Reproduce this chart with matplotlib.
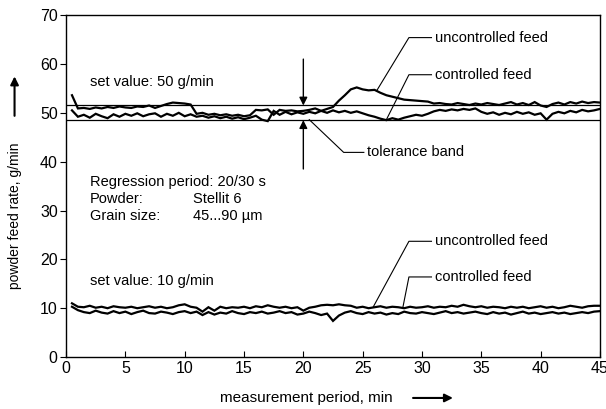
import matplotlib
matplotlib.use("Agg")
import matplotlib.pyplot as plt
import numpy as np

plt.rcParams['font.family'] = ['Liberation Sans', 'DejaVu Sans']

# measurement period, min (sampled every 0.5 min)
t = np.arange(0.5, 45.01, 0.5)

unc50 = [53.6, 50.9, 51.0, 50.8, 51.1, 50.9, 51.2, 51.0, 51.3, 51.1,
         51.0, 51.3, 51.2, 51.5, 51.0, 51.4, 51.8, 52.1, 52.0, 51.9,
         51.7, 49.8, 50.0, 49.6, 49.8, 49.5, 49.7, 49.4, 49.6, 49.3,
         49.5, 50.6, 50.5, 50.7, 49.6, 50.6, 50.4, 50.5, 50.3, 50.4,
         50.6, 50.9, 50.4, 50.8, 51.2, 52.5, 53.6, 54.8, 55.2, 54.8,
         54.6, 54.7, 54.1, 53.6, 53.3, 53.0, 52.7, 52.6, 52.5, 52.4,
         52.3, 51.9, 52.0, 51.8, 51.7, 52.0, 51.8, 51.6, 51.9, 51.7,
         52.0, 51.8, 51.6, 51.9, 52.2, 51.7, 52.0, 51.6, 52.2, 51.5,
         51.2, 51.8, 52.1, 51.7, 52.2, 51.9, 52.3, 52.0, 52.2, 52.1]
ctl50 = [50.5, 49.2, 49.6, 49.0, 49.8, 49.3, 48.9, 49.7, 49.2, 49.8,
         49.4, 49.9, 49.3, 49.7, 49.9, 49.2, 49.8, 49.4, 50.0, 49.3,
         49.7, 49.2, 49.4, 49.0, 49.3, 48.9, 49.2, 48.8, 49.1, 48.7,
         49.0, 49.4, 48.6, 48.3, 50.4, 49.6, 50.2, 49.7, 50.1, 49.8,
         50.2, 49.9, 50.4, 50.0, 50.5, 50.1, 50.4, 50.0, 50.3, 49.9,
         49.5, 49.2, 48.8, 48.5, 48.9, 48.6, 49.0, 49.3, 49.6, 49.4,
         49.8, 50.3, 50.6, 50.4, 50.7, 50.5, 50.8, 50.6, 50.9, 50.2,
         49.8, 50.1, 49.6, 50.0, 49.7, 50.2, 49.8, 50.1, 49.6, 49.9,
         48.6, 49.8, 50.2, 49.9, 50.4, 50.1, 50.6, 50.3, 50.5, 50.8]
unc10 = [11.0, 10.3, 10.2, 10.5, 10.1, 10.3, 10.0, 10.4, 10.2, 10.1,
         10.3, 10.0, 10.2, 10.4, 10.1, 10.3, 10.0, 10.2, 10.6, 10.8,
         10.3, 10.1, 9.3, 10.2, 9.5, 10.3, 10.0, 10.2, 10.1, 10.3,
         10.0, 10.4, 10.2, 10.6, 10.3, 10.1, 10.3, 10.0, 10.2, 9.5,
         10.1, 10.3, 10.6, 10.7, 10.6, 10.8, 10.6, 10.5, 10.1, 10.3,
         10.0, 10.2, 10.4, 10.1, 10.3, 10.2, 10.0, 10.3, 10.1, 10.2,
         10.4, 10.1, 10.3, 10.2, 10.5, 10.3, 10.7, 10.4, 10.2, 10.4,
         10.1, 10.3, 10.2, 10.0, 10.3, 10.1, 10.3, 10.0, 10.2, 10.4,
         10.1, 10.3, 10.0, 10.2, 10.5, 10.3, 10.1, 10.4, 10.5, 10.5]
ctl10 = [10.3, 9.6, 9.2, 9.0, 9.5, 9.1, 8.9, 9.4, 9.0, 9.3,
         8.8, 9.2, 9.5, 9.0, 8.9, 9.3, 9.1, 8.8, 9.2, 9.4,
         9.0, 9.3, 8.6, 9.2, 8.7, 9.1, 8.9, 9.4, 9.0, 8.8,
         9.2, 9.0, 9.3, 8.9, 9.1, 9.4, 9.0, 9.2, 8.7, 8.9,
         9.3, 9.0, 8.6, 8.9, 7.4, 8.5, 9.1, 9.4, 9.0, 8.8,
         9.2, 8.9, 9.1, 8.7, 9.0, 8.8, 9.3, 9.0, 8.9, 9.2,
         9.0, 8.8, 9.1, 9.4, 9.0, 9.2, 8.9, 9.1, 9.3, 9.0,
         8.8, 9.2, 8.9, 9.1, 8.7, 9.0, 9.3, 8.9, 9.1, 8.8,
         9.0, 9.2, 8.9, 9.1, 8.8, 9.0, 9.2, 9.0, 9.3, 9.4]

band = [48.5, 51.5]

fig = plt.figure(figsize=(6.06, 4.09), dpi=100)
ax = fig.add_axes([0.109, 0.127, 0.881, 0.836])

for b in band:
    ax.axhline(b, color='black', lw=0.9)

for s in (unc50, ctl50, unc10, ctl10):
    ax.plot(t, s, color='black', lw=1.6, solid_joinstyle='miter')

ax.set_xlim(0, 45)
ax.set_ylim(0, 70)
ax.set_xticks(np.arange(0, 46, 5))
ax.set_yticks(np.arange(0, 71, 10))
ax.tick_params(axis='x', direction='in', length=4, labelsize=11.5, pad=3)
ax.tick_params(axis='y', direction='out', length=4, labelsize=11.5, pad=2)
for sp in ax.spines.values():
    sp.set_linewidth(1.0)

fs = 10.5
ax.text(2.0, 56.3, 'set value: 50 g/min', fontsize=fs, va='center')
ax.text(2.0, 15.5, 'set value: 10 g/min', fontsize=fs, va='center')
ax.text(2.0, 35.8, 'Regression period: 20/30 s', fontsize=fs, va='center')
ax.text(2.0, 32.3, 'Powder:', fontsize=fs, va='center')
ax.text(10.7, 32.3, 'Stellit 6', fontsize=fs, va='center')
ax.text(2.0, 28.8, 'Grain size:', fontsize=fs, va='center')
ax.text(10.7, 28.8, '45...90 µm', fontsize=fs, va='center')

# leader lines with labels
def leader(label, tx, ty, bx, px, py):
    ax.plot([tx - 0.3, bx, px], [ty, ty, py], color='black', lw=0.8)
    ax.text(tx, ty, label, fontsize=fs, va='center')

leader('uncontrolled feed', 31.1, 65.4, 28.9, 26.2, 54.6)
leader('controlled feed', 31.1, 57.8, 28.9, 27.0, 48.6)
leader('tolerance band', 25.4, 41.9, 23.4, 20.5, 48.6)
leader('uncontrolled feed', 31.1, 23.7, 28.9, 25.9, 10.3)
leader('controlled feed', 31.1, 16.4, 28.9, 28.4, 10.3)

# tolerance band arrows
ax.annotate('', xy=(20.0, band[1]), xytext=(20.0, 61.0),
            arrowprops=dict(arrowstyle='-|>', color='black', lw=1.0,
                            mutation_scale=12, shrinkA=0, shrinkB=0))
ax.annotate('', xy=(20.0, band[0]), xytext=(20.0, 38.5),
            arrowprops=dict(arrowstyle='-|>', color='black', lw=1.0,
                            mutation_scale=12, shrinkA=0, shrinkB=0))

# axis titles with arrows
fig.text(0.505, 0.027, 'measurement period, min', fontsize=11,
         ha='center', va='center')
fig.add_artist(matplotlib.patches.FancyArrowPatch(
    (0.677, 0.027), (0.752, 0.027), transform=fig.transFigure,
    arrowstyle='-|>', mutation_scale=12, lw=1.5, color='black'))
fig.text(0.024, 0.472, 'powder feed rate, g/min', fontsize=10,
         rotation=90, ha='center', va='center')
fig.add_artist(matplotlib.patches.FancyArrowPatch(
    (0.024, 0.71), (0.024, 0.82), transform=fig.transFigure,
    arrowstyle='-|>', mutation_scale=12, lw=1.5, color='black'))

plt.savefig('out.png', dpi=100)
